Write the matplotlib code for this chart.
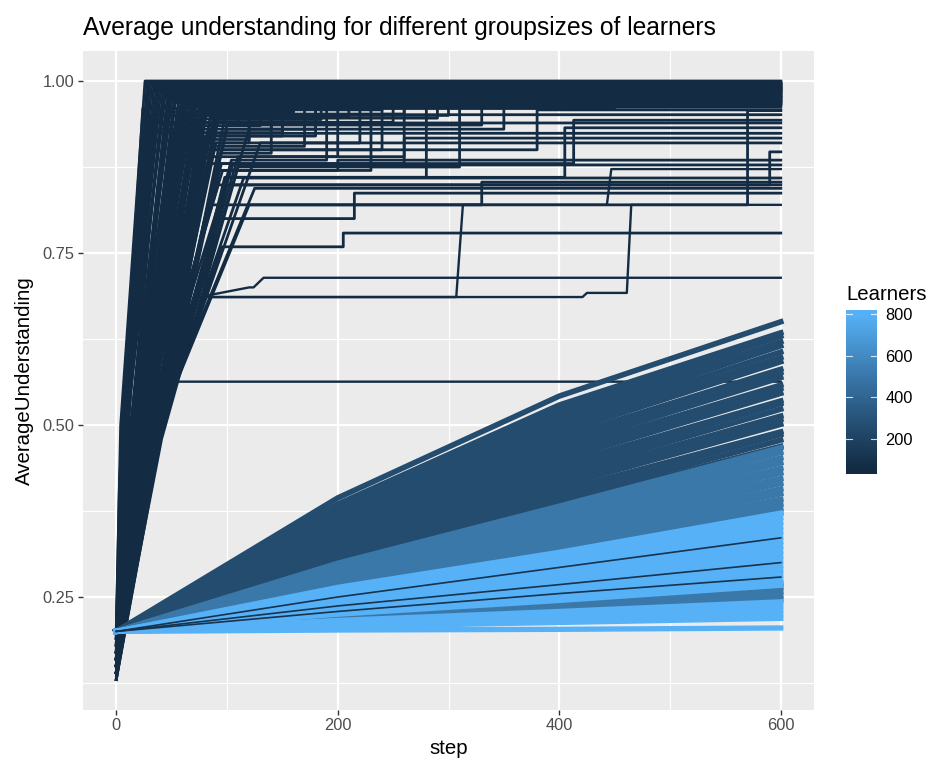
import numpy as np
import matplotlib
matplotlib.use("Agg")
import matplotlib.pyplot as plt
from matplotlib.colors import ListedColormap, to_rgb

plt.rcParams['font.family'] = ['Liberation Sans', 'DejaVu Sans']

# ---- fast learners (small groups): lines that climb to high understanding ----
# each line: (0, start) -> (knee_step, knee_val) -> (top_step, top_val) -> flat to jump_step -> end_val
up_start = [0.20, 0.19, 0.18, 0.20, 0.17, 0.19, 0.16, 0.18, 0.15, 0.20, 0.17, 0.14, 0.19, 0.16, 0.13,
            0.18, 0.15, 0.20, 0.17, 0.14, 0.19, 0.16, 0.15, 0.18, 0.14, 0.17, 0.15, 0.13, 0.16, 0.14,
            0.15, 0.16, 0.14, 0.17, 0.15, 0.16, 0.14, 0.15, 0.17, 0.14, 0.16, 0.15, 0.13, 0.16, 0.14,
            0.15, 0.14, 0.15, 0.16, 0.15, 0.17, 0.14, 0.16, 0.15,
            0.19, 0.17, 0.16, 0.18, 0.15, 0.17, 0.14, 0.16, 0.15, 0.17, 0.14, 0.16, 0.15, 0.13, 0.16,
            0.14, 0.15, 0.13, 0.15, 0.14, 0.18, 0.16, 0.15, 0.14,
            0.15, 0.16, 0.14, 0.17, 0.15, 0.16, 0.14, 0.15, 0.16, 0.14]
up_knee_step = [4, 5, 6, 7, 8, 9, 10, 11, 12, 13, 14, 15, 16, 17, 18,
                19, 20, 21, 22, 24, 25, 26, 28, 30, 32, 34, 36, 38, 40, 42,
                30, 26, 33, 24, 31, 27, 35, 29, 30, 34, 38, 36, 40, 37, 39,
                42, 40, 41, 30, 33, 28, 35, 31, 38,
                3, 5, 7, 9, 11, 13, 15, 17, 19, 21, 23, 25, 27, 29, 31,
                33, 35, 37, 39, 41, 6, 10, 16, 22,
                24, 28, 32, 26, 30, 34, 36, 27, 33, 38]
up_knee_val = [0.50, 0.48, 0.50, 0.55, 0.50, 0.52, 0.49, 0.52, 0.48, 0.55, 0.50, 0.47, 0.54, 0.50, 0.46,
               0.52, 0.49, 0.56, 0.50, 0.48, 0.53, 0.50, 0.49, 0.52, 0.48, 0.51, 0.50, 0.48, 0.50, 0.50,
               0.50, 0.50, 0.49, 0.52, 0.50, 0.50, 0.48, 0.50, 0.52, 0.49, 0.50, 0.49, 0.48, 0.50, 0.50,
               0.50, 0.50, 0.50, 0.50, 0.50, 0.52, 0.49, 0.50, 0.50,
               0.42, 0.45, 0.47, 0.50, 0.46, 0.50, 0.45, 0.48, 0.47, 0.50, 0.46, 0.49, 0.48, 0.45, 0.50,
               0.47, 0.49, 0.46, 0.50, 0.48, 0.50, 0.50, 0.50, 0.50,
               0.50, 0.50, 0.48, 0.52, 0.50, 0.49, 0.48, 0.50, 0.50, 0.49]
up_top_step = [26, 28, 30, 32, 34, 36, 38, 40, 42, 44, 46, 48, 50, 52, 55,
               58, 60, 62, 65, 68, 70, 72, 75, 78, 80, 84, 88, 92, 96, 100,
               88, 80, 95, 75, 100, 85, 110, 92, 96, 105, 115, 120, 100, 125, 90,
               85, 95, 130, 70, 80, 65, 90, 75, 100,
               24, 30, 35, 40, 45, 50, 55, 58, 62, 66, 70, 74, 78, 82, 86,
               90, 94, 98, 104, 110, 28, 36, 48, 60,
               62, 70, 85, 66, 78, 92, 100, 74, 88, 120]
up_top_val = [1.000, 0.998, 0.995, 0.992, 0.990, 0.987, 0.985, 0.982, 0.980, 0.978, 0.975, 0.972, 0.970, 0.968, 0.996,
              0.993, 0.989, 0.984, 0.979, 0.974, 0.969, 0.965, 0.997, 0.991, 0.986, 0.977, 0.971, 0.966, 0.981, 0.962,
              0.900, 0.951, 0.880, 0.939, 0.860, 0.924, 0.890, 0.849, 0.870, 0.878, 0.859, 0.820, 0.849, 0.844, 0.800,
              0.820, 0.759, 0.910, 0.940, 0.920, 0.950, 0.910, 0.960, 0.930,
              0.960, 0.950, 0.940, 0.930, 0.955, 0.920, 0.945, 0.910, 0.935, 0.900, 0.925, 0.890, 0.915, 0.880, 0.905,
              0.870, 0.895, 0.860, 0.885, 0.875, 0.985, 0.975, 0.990, 0.965,
              0.965, 0.955, 0.948, 0.962, 0.952, 0.944, 0.936, 0.958, 0.946, 0.930]
up_jump_step = [600] * 30 + [380, 600, 413, 600, 405, 600, 260, 590, 200, 600, 600, 330, 600, 600, 215,
                             570, 205, 600, 250, 150, 300, 120, 450, 180,
                             70, 90, 110, 140, 160, 180, 100, 220, 130, 240, 150, 200, 120, 260, 170,
                             230, 140, 280, 190, 310, 600, 600, 600, 600,
                             110, 160, 210, 135, 260, 185, 330, 240, 290, 350]
up_end_val = [1.000, 0.998, 0.995, 0.992, 0.990, 0.987, 0.985, 0.982, 0.980, 0.978, 0.975, 0.972, 0.970, 0.968, 0.996,
              0.993, 0.989, 0.984, 0.979, 0.974, 0.969, 0.965, 0.997, 0.991, 0.986, 0.977, 0.971, 0.966, 0.981, 0.962,
              0.958, 0.951, 0.943, 0.939, 0.932, 0.924, 0.917, 0.897, 0.885, 0.878, 0.859, 0.853, 0.849, 0.844, 0.837,
              0.957, 0.779, 0.910, 0.990, 0.985, 0.995, 0.975, 0.990, 0.970,
              0.999, 0.994, 0.988, 0.983, 0.996, 0.978, 0.973, 0.992, 0.985, 0.968, 0.998, 0.976, 0.981, 0.989, 0.972,
              0.995, 0.986, 0.979, 0.991, 0.967, 0.985, 0.975, 0.990, 0.965,
              0.990, 0.982, 0.993, 0.978, 0.987, 0.971, 0.984, 0.996, 0.976, 0.988]

# stair-shaped runs that stall for a long time
stair1_steps = [0, 35, 72, 307, 313, 443, 447, 600]
stair1_vals = [0.16, 0.50, 0.686, 0.686, 0.820, 0.820, 0.872, 0.872]
stair2_steps = [0, 38, 78, 421, 425, 461, 465, 600]
stair2_vals = [0.15, 0.50, 0.686, 0.686, 0.692, 0.692, 0.820, 0.820]
stair3_steps = [0, 36, 75, 120, 124, 133, 600]
stair3_vals = [0.15, 0.50, 0.686, 0.700, 0.700, 0.714, 0.714]
stair4_steps = [0, 20, 29, 45, 52, 600]
stair4_vals = [0.14, 0.33, 0.41, 0.53, 0.563, 0.563]

# ---- slow learners (bigger groups): values at steps 0, 200, 400, 600 ----
steps4 = [0, 200, 400, 600]

g250_s200 = [0.394, 0.385, 0.381, 0.377, 0.373, 0.369, 0.364, 0.361, 0.356, 0.353, 0.348, 0.344,
             0.340, 0.337, 0.333, 0.329, 0.325, 0.322, 0.318, 0.314, 0.310, 0.307, 0.303, 0.300]
g250_s400 = [0.542, 0.529, 0.522, 0.515, 0.508, 0.502, 0.495, 0.488, 0.481, 0.475, 0.468, 0.462,
             0.455, 0.449, 0.442, 0.436, 0.429, 0.423, 0.417, 0.411, 0.404, 0.399, 0.392, 0.386]
g250_end = [0.650, 0.634, 0.629, 0.621, 0.615, 0.606, 0.598, 0.592, 0.581, 0.576, 0.569, 0.558,
            0.553, 0.546, 0.535, 0.531, 0.523, 0.513, 0.508, 0.501, 0.490, 0.486, 0.478, 0.469]

g500_s200 = [0.299, 0.296, 0.293, 0.291, 0.288, 0.285, 0.282, 0.280, 0.277, 0.274, 0.271, 0.268, 0.266, 0.264,
             0.226, 0.224, 0.221, 0.219, 0.217]
g500_s400 = [0.382, 0.377, 0.371, 0.367, 0.361, 0.356, 0.351, 0.346, 0.341, 0.336, 0.331, 0.326, 0.321, 0.317,
             0.248, 0.244, 0.239, 0.235, 0.231]
g500_end = [0.467, 0.460, 0.452, 0.445, 0.437, 0.430, 0.422, 0.415, 0.407, 0.400, 0.392, 0.385, 0.378, 0.372,
            0.270, 0.264, 0.258, 0.252, 0.246]

g800_s200 = [0.264, 0.261, 0.258, 0.256, 0.253, 0.251, 0.248, 0.246, 0.243, 0.240, 0.238, 0.235, 0.233, 0.230,
             0.227, 0.225, 0.216, 0.214, 0.211, 0.209, 0.207, 0.202]
g800_s400 = [0.315, 0.311, 0.306, 0.301, 0.297, 0.292, 0.287, 0.282, 0.278, 0.273, 0.268, 0.264, 0.259, 0.254,
             0.249, 0.245, 0.229, 0.225, 0.221, 0.217, 0.213, 0.203]
g800_end = [0.372, 0.365, 0.358, 0.351, 0.344, 0.337, 0.330, 0.323, 0.316, 0.309, 0.302, 0.295, 0.288, 0.281,
            0.274, 0.267, 0.243, 0.237, 0.231, 0.225, 0.219, 0.205]

g100_s200 = [0.250, 0.237, 0.229]
g100_s400 = [0.293, 0.268, 0.255]
g100_end = [0.336, 0.300, 0.279]

learner_ticks = [200, 400, 600, 800]
learner_min, learner_max = 50, 800

# ggplot-like gradient (#132B43 -> #56B1F7) interpolated in CIELAB
M = np.array([[0.4124564, 0.3575761, 0.1804375],
              [0.2126729, 0.7151522, 0.0721750],
              [0.0193339, 0.1191920, 0.9503041]])
white = np.array([0.95047, 1.0, 1.08883])
d = 6 / 29


def to_lab(col):
    rgb = np.array(to_rgb(col))
    lin = np.where(rgb <= 0.04045, rgb / 12.92, ((rgb + 0.055) / 1.055) ** 2.4)
    xyz = M @ lin / white
    f = np.where(xyz > d ** 3, np.cbrt(xyz), xyz / (3 * d * d) + 4 / 29)
    return np.array([116 * f[1] - 16, 500 * (f[0] - f[1]), 200 * (f[1] - f[2])])


def from_lab(lab):
    fy = (lab[0] + 16) / 116
    f = np.array([fy + lab[1] / 500, fy, fy - lab[2] / 200])
    xyz = np.where(f > d, f ** 3, 3 * d * d * (f - 4 / 29)) * white
    lin = np.clip(np.linalg.solve(M, xyz), 0, 1)
    rgb = np.where(lin <= 0.0031308, 12.92 * lin, 1.055 * lin ** (1 / 2.4) - 0.055)
    return tuple(np.clip(rgb, 0, 1))


lab_lo, lab_hi = to_lab("#132B43"), to_lab("#56B1F7")


def learner_colour(n):
    t = (n - learner_min) / (learner_max - learner_min)
    return from_lab(lab_lo + t * (lab_hi - lab_lo))


fig = plt.figure(figsize=(9.28, 7.62), dpi=100)
ax = fig.add_axes([83 / 928, 52.5 / 762, 731 / 928, 658.5 / 762])
ax.set_facecolor("#EBEBEB")

# grid
for v in [0.125, 0.375, 0.625, 0.875]:
    ax.axhline(v, color="white", lw=0.8, zorder=0)
for v in [100, 300, 500]:
    ax.axvline(v, color="white", lw=0.8, zorder=0)
for v in [0.25, 0.5, 0.75, 1.0]:
    ax.axhline(v, color="white", lw=1.6, zorder=0)
for v in [0, 200, 400, 600]:
    ax.axvline(v, color="white", lw=1.6, zorder=0)

c50 = learner_colour(50)
lw_up = 2.0
for i in range(len(up_start)):
    xs = [0, up_knee_step[i], up_top_step[i], up_jump_step[i], up_jump_step[i], 600]
    ys = [up_start[i], up_knee_val[i], up_top_val[i], up_top_val[i], up_end_val[i], up_end_val[i]]
    ax.plot(xs, ys, color=c50, lw=lw_up)
for xs, ys in [(stair1_steps, stair1_vals), (stair2_steps, stair2_vals),
               (stair3_steps, stair3_vals), (stair4_steps, stair4_vals)]:
    ax.plot(xs, ys, color=c50, lw=1.7)

for n, s200, s400, end, lw in [(250, g250_s200, g250_s400, g250_end, 4.0),
                               (500, g500_s200, g500_s400, g500_end, 4.0),
                               (800, g800_s200, g800_s400, g800_end, 3.8),
                               (100, g100_s200, g100_s400, g100_end, 1.2)]:
    col = learner_colour(n)
    for a, b, c in zip(s200, s400, end):
        ax.plot(steps4, [0.2, a, b, c], color=col, lw=lw)

ax.set_xlim(-30, 630)
ax.set_ylim(0.0865, 1.0436)
ax.set_xticks([0, 200, 400, 600])
ax.set_yticks([0.25, 0.5, 0.75, 1.0])
ax.set_yticklabels(["0.25", "0.50", "0.75", "1.00"])
ax.tick_params(length=3.7, width=1.0, color="#333333", labelcolor="#4D4D4D", labelsize=11.8, pad=2.5)
for s in ax.spines.values():
    s.set_visible(False)
ax.set_xlabel("step", fontsize=14.7, labelpad=4)
ax.set_ylabel("AverageUnderstanding", fontsize=14.7, labelpad=6)
fig.text(83 / 928, 1 - 28 / 762, "Average understanding for different groupsizes of learners",
         fontsize=17.7, va="center", ha="left")

# colour bar legend
pad = (learner_max - learner_min) / 19 / 2
cax = fig.add_axes([846 / 928, (762 - 474) / 762, 31 / 928, 164 / 762])
grad = np.linspace(learner_min - pad, learner_max + pad, 256).reshape(-1, 1)
cmap = ListedColormap([learner_colour(v) for v in np.linspace(learner_min, learner_max, 256)])
cax.imshow(grad, aspect="auto", origin="lower", cmap=cmap, vmin=learner_min, vmax=learner_max,
           extent=[0, 1, learner_min - pad, learner_max + pad])
cax.set_xlim(0, 1)
cax.set_ylim(learner_min - pad, learner_max + pad)
for t in learner_ticks:
    cax.plot([0, 0.2], [t, t], color="white", lw=0.8, alpha=0.8)
    cax.plot([0.8, 1], [t, t], color="white", lw=0.8, alpha=0.8)
cax.set_xticks([])
cax.yaxis.tick_right()
cax.set_yticks(learner_ticks)
cax.tick_params(length=0, labelsize=11.8, pad=6)
for s in cax.spines.values():
    s.set_visible(False)
fig.text(846 / 928, 1 - 295 / 762, "Learners", fontsize=14.7, va="center", ha="left")

fig.savefig("out.png", dpi=100, facecolor="white")
